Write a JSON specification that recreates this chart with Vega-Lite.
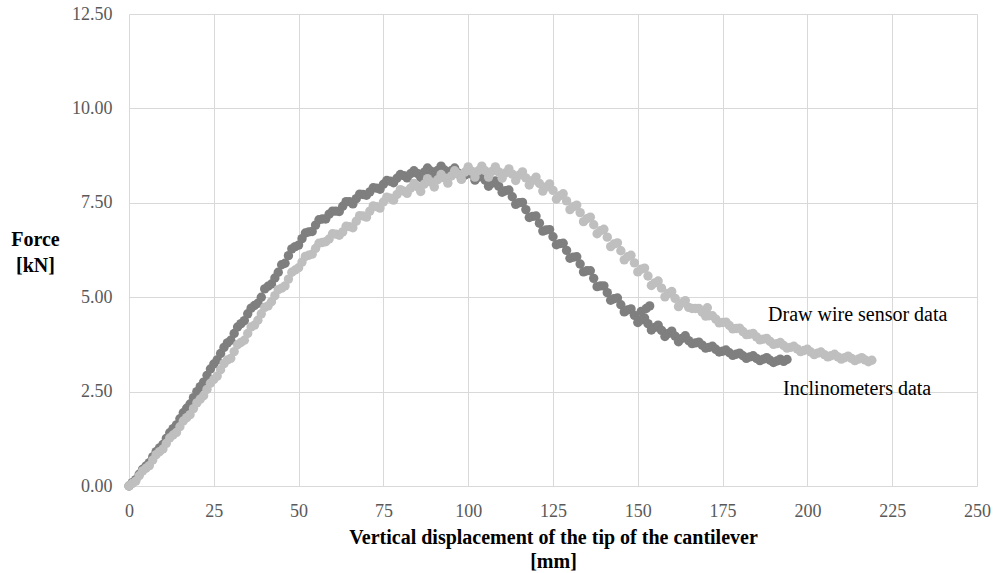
{
"$schema":"https://vega.github.io/schema/vega-lite/v6.json",
"width":848,"height":472,
"autosize":{"type":"none"},
"padding":{"left":129,"top":14,"right":20,"bottom":87},
"background":"white",
"config":{"view":{"stroke":null},"font":"Liberation Serif"},
"layer":[
{"data":{"values":[
{"s":"incl","x":0,"y":0},{"s":"incl","x":1,"y":0.09},{"s":"incl","x":2,"y":0.17},{"s":"incl","x":3,"y":0.31},{"s":"incl","x":4,"y":0.44},{"s":"incl","x":5,"y":0.53},{"s":"incl","x":6,"y":0.62},{"s":"incl","x":7,"y":0.77},{"s":"incl","x":8,"y":0.91},{"s":"incl","x":9,"y":1.01},
{"s":"incl","x":10,"y":1.10},{"s":"incl","x":11,"y":1.26},{"s":"incl","x":12,"y":1.41},{"s":"incl","x":13,"y":1.52},{"s":"incl","x":14,"y":1.62},{"s":"incl","x":15,"y":1.78},{"s":"incl","x":16,"y":1.94},{"s":"incl","x":17,"y":2.06},{"s":"incl","x":18,"y":2.17},{"s":"incl","x":19,"y":2.34},
{"s":"incl","x":20,"y":2.50},{"s":"incl","x":21,"y":2.63},{"s":"incl","x":22,"y":2.75},{"s":"incl","x":23,"y":2.93},{"s":"incl","x":24,"y":3.10},{"s":"incl","x":25,"y":3.23},{"s":"incl","x":26,"y":3.34},{"s":"incl","x":27,"y":3.51},{"s":"incl","x":28,"y":3.67},{"s":"incl","x":29,"y":3.79},
{"s":"incl","x":30,"y":3.86},{"s":"incl","x":31,"y":4.04},{"s":"incl","x":32,"y":4.21},{"s":"incl","x":33,"y":4.30},{"s":"incl","x":34,"y":4.38},{"s":"incl","x":35,"y":4.56},{"s":"incl","x":36,"y":4.71},{"s":"incl","x":37,"y":4.78},{"s":"incl","x":38,"y":4.84},{"s":"incl","x":39,"y":5.00},
{"s":"incl","x":40,"y":5.22},{"s":"incl","x":41,"y":5.29},{"s":"incl","x":42,"y":5.35},{"s":"incl","x":43,"y":5.51},{"s":"incl","x":44,"y":5.66},{"s":"incl","x":45,"y":5.86},{"s":"incl","x":46,"y":5.90},{"s":"incl","x":47,"y":6.10},{"s":"incl","x":48,"y":6.28},{"s":"incl","x":49,"y":6.34},
{"s":"incl","x":50,"y":6.38},{"s":"incl","x":51,"y":6.55},{"s":"incl","x":52,"y":6.70},{"s":"incl","x":53,"y":6.73},{"s":"incl","x":54,"y":6.74},{"s":"incl","x":55,"y":6.91},{"s":"incl","x":56,"y":7.05},{"s":"incl","x":57,"y":7.07},{"s":"incl","x":58,"y":7.07},{"s":"incl","x":59,"y":7.20},
{"s":"incl","x":60,"y":7.28},{"s":"incl","x":61,"y":7.28},{"s":"incl","x":62,"y":7.27},{"s":"incl","x":63,"y":7.41},{"s":"incl","x":64,"y":7.53},{"s":"incl","x":65,"y":7.53},{"s":"incl","x":66,"y":7.47},{"s":"incl","x":67,"y":7.61},{"s":"incl","x":68,"y":7.73},{"s":"incl","x":69,"y":7.72},
{"s":"incl","x":70,"y":7.70},{"s":"incl","x":71,"y":7.79},{"s":"incl","x":72,"y":7.90},{"s":"incl","x":73,"y":7.89},{"s":"incl","x":74,"y":7.86},{"s":"incl","x":75,"y":7.99},{"s":"incl","x":76,"y":8.09},{"s":"incl","x":77,"y":8.07},{"s":"incl","x":78,"y":8.03},{"s":"incl","x":79,"y":8.15},
{"s":"incl","x":80,"y":8.25},{"s":"incl","x":81,"y":8.22},{"s":"incl","x":82,"y":8.16},{"s":"incl","x":83,"y":8.27},{"s":"incl","x":84,"y":8.35},{"s":"incl","x":85,"y":8.28},{"s":"incl","x":86,"y":8.17},{"s":"incl","x":87,"y":8.31},{"s":"incl","x":88,"y":8.42},{"s":"incl","x":89,"y":8.34},
{"s":"incl","x":90,"y":8.23},{"s":"incl","x":91,"y":8.36},{"s":"incl","x":92,"y":8.47},{"s":"incl","x":93,"y":8.37},{"s":"incl","x":94,"y":8.24},{"s":"incl","x":95,"y":8.35},{"s":"incl","x":96,"y":8.42},{"s":"incl","x":97,"y":8.29},{"s":"incl","x":98,"y":8.14},{"s":"incl","x":99,"y":8.23},
{"s":"incl","x":100,"y":8.40},{"s":"incl","x":101,"y":8.26},{"s":"incl","x":102,"y":8.10},{"s":"incl","x":103,"y":8.18},{"s":"incl","x":104,"y":8.24},{"s":"incl","x":105,"y":8.10},{"s":"incl","x":106,"y":7.94},{"s":"incl","x":107,"y":8.02},{"s":"incl","x":108,"y":8.08},{"s":"incl","x":109,"y":7.94},
{"s":"incl","x":110,"y":7.78},{"s":"incl","x":111,"y":7.82},{"s":"incl","x":112,"y":7.84},{"s":"incl","x":113,"y":7.66},{"s":"incl","x":114,"y":7.46},{"s":"incl","x":115,"y":7.50},{"s":"incl","x":116,"y":7.51},{"s":"incl","x":117,"y":7.32},{"s":"incl","x":118,"y":7.11},{"s":"incl","x":119,"y":7.14},
{"s":"incl","x":120,"y":7.15},{"s":"incl","x":121,"y":6.96},{"s":"incl","x":122,"y":6.75},{"s":"incl","x":123,"y":6.78},{"s":"incl","x":124,"y":6.79},{"s":"incl","x":125,"y":6.60},{"s":"incl","x":126,"y":6.39},{"s":"incl","x":127,"y":6.42},{"s":"incl","x":128,"y":6.43},{"s":"incl","x":129,"y":6.24},
{"s":"incl","x":130,"y":6.03},{"s":"incl","x":131,"y":6.06},{"s":"incl","x":132,"y":6.07},{"s":"incl","x":133,"y":5.88},{"s":"incl","x":134,"y":5.67},{"s":"incl","x":135,"y":5.70},{"s":"incl","x":136,"y":5.70},{"s":"incl","x":137,"y":5.50},{"s":"incl","x":138,"y":5.28},{"s":"incl","x":139,"y":5.30},
{"s":"incl","x":140,"y":5.30},{"s":"incl","x":141,"y":5.12},{"s":"incl","x":142,"y":4.92},{"s":"incl","x":143,"y":4.96},{"s":"incl","x":144,"y":4.98},{"s":"incl","x":145,"y":4.80},{"s":"incl","x":146,"y":4.61},{"s":"incl","x":147,"y":4.66},{"s":"incl","x":148,"y":4.69},{"s":"incl","x":149,"y":4.52},
{"s":"incl","x":150,"y":4.33},{"s":"incl","x":151,"y":4.40},{"s":"incl","x":152,"y":4.45},{"s":"incl","x":153,"y":4.30},{"s":"incl","x":154,"y":4.13},{"s":"incl","x":155,"y":4.20},{"s":"incl","x":156,"y":4.26},{"s":"incl","x":157,"y":4.12},{"s":"incl","x":158,"y":3.96},{"s":"incl","x":159,"y":4.04},
{"s":"incl","x":160,"y":4.10},{"s":"incl","x":161,"y":3.97},{"s":"incl","x":162,"y":3.82},{"s":"incl","x":163,"y":3.91},{"s":"incl","x":164,"y":3.98},{"s":"incl","x":165,"y":3.85},{"s":"incl","x":166,"y":3.77},{"s":"incl","x":167,"y":3.79},{"s":"incl","x":168,"y":3.81},{"s":"incl","x":169,"y":3.73},
{"s":"incl","x":170,"y":3.65},{"s":"incl","x":171,"y":3.67},{"s":"incl","x":172,"y":3.70},{"s":"incl","x":173,"y":3.62},{"s":"incl","x":174,"y":3.55},{"s":"incl","x":175,"y":3.57},{"s":"incl","x":176,"y":3.60},{"s":"incl","x":177,"y":3.53},{"s":"incl","x":178,"y":3.46},{"s":"incl","x":179,"y":3.49},
{"s":"incl","x":180,"y":3.52},{"s":"incl","x":181,"y":3.45},{"s":"incl","x":182,"y":3.38},{"s":"incl","x":183,"y":3.42},{"s":"incl","x":184,"y":3.45},{"s":"incl","x":185,"y":3.38},{"s":"incl","x":186,"y":3.32},{"s":"incl","x":187,"y":3.36},{"s":"incl","x":188,"y":3.40},{"s":"incl","x":189,"y":3.33},
{"s":"incl","x":190,"y":3.27},{"s":"incl","x":191,"y":3.31},{"s":"incl","x":192,"y":3.36},{"s":"incl","x":193,"y":3.30},{"s":"incl","x":194,"y":3.35},
{"s":"incl","x":151,"y":4.62},{"s":"incl","x":152.5,"y":4.70},{"s":"incl","x":153.5,"y":4.77},
{"s":"wire","x":0,"y":0},{"s":"wire","x":1,"y":0.07},{"s":"wire","x":2,"y":0.13},{"s":"wire","x":3,"y":0.27},{"s":"wire","x":4,"y":0.40},{"s":"wire","x":5,"y":0.47},{"s":"wire","x":6,"y":0.54},{"s":"wire","x":7,"y":0.69},{"s":"wire","x":8,"y":0.83},{"s":"wire","x":9,"y":0.91},
{"s":"wire","x":10,"y":0.98},{"s":"wire","x":11,"y":1.13},{"s":"wire","x":12,"y":1.27},{"s":"wire","x":13,"y":1.35},{"s":"wire","x":14,"y":1.42},{"s":"wire","x":15,"y":1.57},{"s":"wire","x":16,"y":1.72},{"s":"wire","x":17,"y":1.81},{"s":"wire","x":18,"y":1.89},{"s":"wire","x":19,"y":2.05},
{"s":"wire","x":20,"y":2.20},{"s":"wire","x":21,"y":2.30},{"s":"wire","x":22,"y":2.39},{"s":"wire","x":23,"y":2.56},{"s":"wire","x":24,"y":2.72},{"s":"wire","x":25,"y":2.82},{"s":"wire","x":26,"y":2.91},{"s":"wire","x":27,"y":3.08},{"s":"wire","x":28,"y":3.24},{"s":"wire","x":29,"y":3.34},
{"s":"wire","x":30,"y":3.38},{"s":"wire","x":31,"y":3.56},{"s":"wire","x":32,"y":3.74},{"s":"wire","x":33,"y":3.80},{"s":"wire","x":34,"y":3.86},{"s":"wire","x":35,"y":4.04},{"s":"wire","x":36,"y":4.21},{"s":"wire","x":37,"y":4.26},{"s":"wire","x":38,"y":4.39},{"s":"wire","x":39,"y":4.56},
{"s":"wire","x":40,"y":4.73},{"s":"wire","x":41,"y":4.77},{"s":"wire","x":42,"y":4.88},{"s":"wire","x":43,"y":5.04},{"s":"wire","x":44,"y":5.20},{"s":"wire","x":45,"y":5.24},{"s":"wire","x":46,"y":5.30},{"s":"wire","x":47,"y":5.48},{"s":"wire","x":48,"y":5.66},{"s":"wire","x":49,"y":5.72},
{"s":"wire","x":50,"y":5.78},{"s":"wire","x":51,"y":5.93},{"s":"wire","x":52,"y":6.08},{"s":"wire","x":53,"y":6.11},{"s":"wire","x":54,"y":6.14},{"s":"wire","x":55,"y":6.29},{"s":"wire","x":56,"y":6.43},{"s":"wire","x":57,"y":6.45},{"s":"wire","x":58,"y":6.47},{"s":"wire","x":59,"y":6.54},
{"s":"wire","x":60,"y":6.68},{"s":"wire","x":61,"y":6.67},{"s":"wire","x":62,"y":6.64},{"s":"wire","x":63,"y":6.73},{"s":"wire","x":64,"y":6.88},{"s":"wire","x":65,"y":6.87},{"s":"wire","x":66,"y":6.84},{"s":"wire","x":67,"y":7.01},{"s":"wire","x":68,"y":7.16},{"s":"wire","x":69,"y":7.15},
{"s":"wire","x":70,"y":7.12},{"s":"wire","x":71,"y":7.28},{"s":"wire","x":72,"y":7.42},{"s":"wire","x":73,"y":7.40},{"s":"wire","x":74,"y":7.36},{"s":"wire","x":75,"y":7.52},{"s":"wire","x":76,"y":7.65},{"s":"wire","x":77,"y":7.62},{"s":"wire","x":78,"y":7.57},{"s":"wire","x":79,"y":7.72},
{"s":"wire","x":80,"y":7.85},{"s":"wire","x":81,"y":7.81},{"s":"wire","x":82,"y":7.75},{"s":"wire","x":83,"y":7.89},{"s":"wire","x":84,"y":8.01},{"s":"wire","x":85,"y":7.93},{"s":"wire","x":86,"y":7.80},{"s":"wire","x":87,"y":7.99},{"s":"wire","x":88,"y":8.14},{"s":"wire","x":89,"y":8.05},
{"s":"wire","x":90,"y":7.92},{"s":"wire","x":91,"y":8.11},{"s":"wire","x":92,"y":8.25},{"s":"wire","x":93,"y":8.16},{"s":"wire","x":94,"y":8.02},{"s":"wire","x":95,"y":8.21},{"s":"wire","x":96,"y":8.35},{"s":"wire","x":97,"y":8.26},{"s":"wire","x":98,"y":8.12},{"s":"wire","x":99,"y":8.31},
{"s":"wire","x":100,"y":8.45},{"s":"wire","x":101,"y":8.34},{"s":"wire","x":102,"y":8.18},{"s":"wire","x":103,"y":8.35},{"s":"wire","x":104,"y":8.47},{"s":"wire","x":105,"y":8.35},{"s":"wire","x":106,"y":8.18},{"s":"wire","x":107,"y":8.33},{"s":"wire","x":108,"y":8.45},{"s":"wire","x":109,"y":8.32},
{"s":"wire","x":110,"y":8.15},{"s":"wire","x":111,"y":8.29},{"s":"wire","x":112,"y":8.40},{"s":"wire","x":113,"y":8.26},{"s":"wire","x":114,"y":8.09},{"s":"wire","x":115,"y":8.23},{"s":"wire","x":116,"y":8.32},{"s":"wire","x":117,"y":8.16},{"s":"wire","x":118,"y":7.97},{"s":"wire","x":119,"y":8.09},
{"s":"wire","x":120,"y":8.18},{"s":"wire","x":121,"y":8.01},{"s":"wire","x":122,"y":7.81},{"s":"wire","x":123,"y":7.92},{"s":"wire","x":124,"y":8.00},{"s":"wire","x":125,"y":7.83},{"s":"wire","x":126,"y":7.60},{"s":"wire","x":127,"y":7.69},{"s":"wire","x":128,"y":7.74},{"s":"wire","x":129,"y":7.55},
{"s":"wire","x":130,"y":7.32},{"s":"wire","x":131,"y":7.40},{"s":"wire","x":132,"y":7.44},{"s":"wire","x":133,"y":7.24},{"s":"wire","x":134,"y":7.00},{"s":"wire","x":135,"y":7.08},{"s":"wire","x":136,"y":7.12},{"s":"wire","x":137,"y":6.92},{"s":"wire","x":138,"y":6.68},{"s":"wire","x":139,"y":6.76},
{"s":"wire","x":140,"y":6.80},{"s":"wire","x":141,"y":6.59},{"s":"wire","x":142,"y":6.34},{"s":"wire","x":143,"y":6.41},{"s":"wire","x":144,"y":6.44},{"s":"wire","x":145,"y":6.23},{"s":"wire","x":146,"y":5.99},{"s":"wire","x":147,"y":6.07},{"s":"wire","x":148,"y":6.11},{"s":"wire","x":149,"y":5.91},
{"s":"wire","x":150,"y":5.67},{"s":"wire","x":151,"y":5.74},{"s":"wire","x":152,"y":5.77},{"s":"wire","x":153,"y":5.56},{"s":"wire","x":154,"y":5.31},{"s":"wire","x":155,"y":5.38},{"s":"wire","x":156,"y":5.43},{"s":"wire","x":157,"y":5.24},{"s":"wire","x":158,"y":5.01},{"s":"wire","x":159,"y":5.10},
{"s":"wire","x":160,"y":5.15},{"s":"wire","x":161,"y":4.97},{"s":"wire","x":162,"y":4.75},{"s":"wire","x":163,"y":4.85},{"s":"wire","x":164,"y":4.91},{"s":"wire","x":165,"y":4.73},{"s":"wire","x":166,"y":4.70},{"s":"wire","x":167,"y":4.70},{"s":"wire","x":168,"y":4.70},{"s":"wire","x":169,"y":4.60},
{"s":"wire","x":170,"y":4.50},{"s":"wire","x":171,"y":4.51},{"s":"wire","x":172,"y":4.51},{"s":"wire","x":173,"y":4.42},{"s":"wire","x":174,"y":4.32},{"s":"wire","x":175,"y":4.33},{"s":"wire","x":176,"y":4.34},{"s":"wire","x":177,"y":4.25},{"s":"wire","x":178,"y":4.16},{"s":"wire","x":179,"y":4.17},
{"s":"wire","x":180,"y":4.18},{"s":"wire","x":181,"y":4.09},{"s":"wire","x":182,"y":4.01},{"s":"wire","x":183,"y":4.02},{"s":"wire","x":184,"y":4.04},{"s":"wire","x":185,"y":3.95},{"s":"wire","x":186,"y":3.87},{"s":"wire","x":187,"y":3.89},{"s":"wire","x":188,"y":3.91},{"s":"wire","x":189,"y":3.83},
{"s":"wire","x":190,"y":3.75},{"s":"wire","x":191,"y":3.77},{"s":"wire","x":192,"y":3.80},{"s":"wire","x":193,"y":3.72},{"s":"wire","x":194,"y":3.65},{"s":"wire","x":195,"y":3.67},{"s":"wire","x":196,"y":3.70},{"s":"wire","x":197,"y":3.63},{"s":"wire","x":198,"y":3.56},{"s":"wire","x":199,"y":3.59},
{"s":"wire","x":200,"y":3.62},{"s":"wire","x":201,"y":3.55},{"s":"wire","x":202,"y":3.48},{"s":"wire","x":203,"y":3.52},{"s":"wire","x":204,"y":3.55},{"s":"wire","x":205,"y":3.48},{"s":"wire","x":206,"y":3.42},{"s":"wire","x":207,"y":3.45},{"s":"wire","x":208,"y":3.49},{"s":"wire","x":209,"y":3.42},
{"s":"wire","x":210,"y":3.36},{"s":"wire","x":211,"y":3.40},{"s":"wire","x":212,"y":3.44},{"s":"wire","x":213,"y":3.38},{"s":"wire","x":214,"y":3.32},{"s":"wire","x":215,"y":3.36},{"s":"wire","x":216,"y":3.40},{"s":"wire","x":217,"y":3.34},{"s":"wire","x":218,"y":3.29},{"s":"wire","x":219,"y":3.33},
{"s":"wire","x":170.5,"y":4.72}
]},
"mark":{"type":"point","filled":true,"shape":"circle","size":88,"opacity":1},
"encoding":{
"x":{"field":"x","type":"quantitative","scale":{"domain":[0,250],"nice":false,"zero":false},
"axis":{"values":[0,25,50,75,100,125,150,175,200,225,250],"title":["Vertical displacement of the tip of the cantilever","[mm]"],"titleFont":"Liberation Serif","titleFontWeight":"bold","titleFontSize":20,"titleColor":"black","titleLineHeight":24,"titleBaseline":"top","titleAlign":"center","titleX":424,"titleY":41,"labelFont":"Liberation Serif","labelFontSize":18,"labelColor":"#595959","labelPadding":16,"ticks":false,"tickSize":0,"domain":false,"grid":true,"gridColor":"#d9d9d9","labelFlush":false}},
"y":{"field":"y","type":"quantitative","scale":{"domain":[0,12.5],"nice":false},
"axis":{"values":[0,2.5,5,7.5,10,12.5],"format":".2f","title":["Force","[kN]"],"titleFont":"Liberation Serif","titleAngle":0,"titleX":-94,"titleY":215,"titleAlign":"center","titleBaseline":"top","titleLineHeight":26,"titleFontWeight":"bold","titleFontSize":20,"titleColor":"black","labelFont":"Liberation Serif","labelFontSize":18,"labelColor":"#595959","labelPadding":17,"ticks":false,"tickSize":0,"domain":false,"grid":true,"gridColor":"#d9d9d9","labelFlush":false}},
"color":{"field":"s","type":"nominal","scale":{"domain":["incl","wire"],"range":["#7f7f7f","#bfbfbf"]},"legend":null}
}},
{"data":{"values":[{"label":"Draw wire sensor data","x":188.4,"y":4.53},{"label":"Inclinometers data","x":192.8,"y":2.56}]},
"mark":{"type":"text","align":"left","baseline":"middle","fontSize":20,"font":"Liberation Serif","color":"black"},
"encoding":{"x":{"field":"x","type":"quantitative"},"y":{"field":"y","type":"quantitative"},"text":{"field":"label","type":"nominal"}}}
]
}
